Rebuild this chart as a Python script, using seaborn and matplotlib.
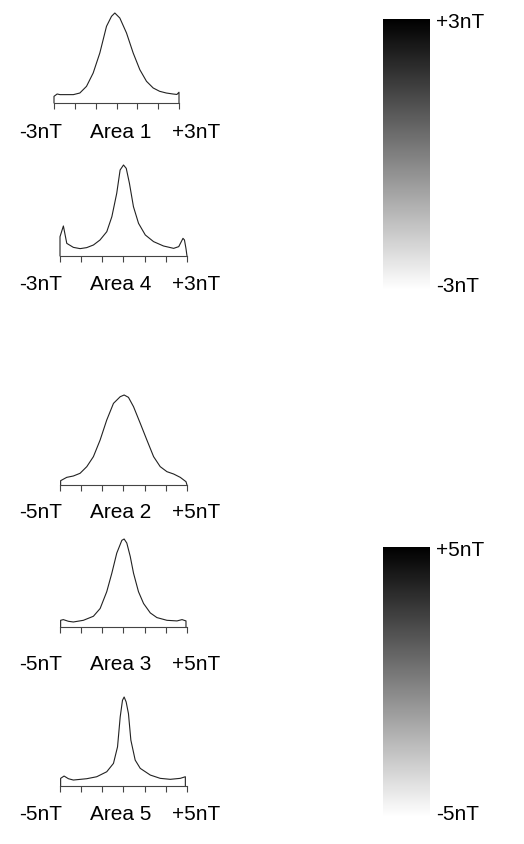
import numpy as np
import pandas as pd
import matplotlib
matplotlib.use("Agg")
import matplotlib.pyplot as plt
import matplotlib.colors as mcolors
import matplotlib.cm as cm
import seaborn as sns

# histogram outlines (field in nT, relative count)
area1_x = [-3.00, -2.85, -2.71, -2.07, -1.76, -1.44, -1.12, -0.80, -0.48, -0.24, -0.08, 0.16, 0.48, 0.80, 1.12, 1.44, 1.76, 2.07, 2.39, 2.71, 2.90, 3.00]
area1_y = [0.074, 0.100, 0.093, 0.093, 0.111, 0.185, 0.333, 0.556, 0.852, 0.963, 1.000, 0.944, 0.778, 0.556, 0.370, 0.241, 0.167, 0.130, 0.111, 0.100, 0.095, 0.120]

area4_x = [-3.00, -2.84, -2.68, -2.37, -2.05, -1.74, -1.42, -1.11, -0.79, -0.55, -0.32, -0.16, 0.00, 0.13, 0.28, 0.47, 0.71, 1.03, 1.42, 1.89, 2.37, 2.61, 2.81, 2.88, 2.95, 3.00]
area4_y = [0.212, 0.330, 0.139, 0.095, 0.081, 0.092, 0.121, 0.176, 0.267, 0.432, 0.689, 0.945, 1.000, 0.963, 0.799, 0.542, 0.359, 0.231, 0.158, 0.110, 0.084, 0.103, 0.194, 0.176, 0.084, 0.000]

area2_x = [-4.95, -4.47, -3.95, -3.42, -2.89, -2.37, -1.84, -1.32, -0.79, -0.26, 0.05, 0.39, 0.79, 1.32, 1.84, 2.37, 2.89, 3.42, 3.95, 4.47, 4.92, 5.00]
area2_y = [0.048, 0.085, 0.100, 0.130, 0.204, 0.315, 0.500, 0.722, 0.907, 0.981, 1.000, 0.974, 0.870, 0.685, 0.500, 0.315, 0.204, 0.148, 0.122, 0.085, 0.037, 0.000]

area3_x = [-4.95, -4.74, -4.34, -3.95, -3.16, -2.37, -1.84, -1.32, -0.92, -0.53, -0.13, 0.05, 0.26, 0.53, 0.79, 1.18, 1.58, 2.11, 2.63, 3.42, 4.21, 4.61, 4.92]
area3_y = [0.076, 0.084, 0.065, 0.057, 0.076, 0.122, 0.210, 0.401, 0.611, 0.840, 0.985, 1.000, 0.954, 0.802, 0.611, 0.401, 0.267, 0.160, 0.107, 0.076, 0.069, 0.084, 0.069]

area5_x = [-4.95, -4.68, -4.34, -3.95, -2.89, -2.11, -1.32, -0.79, -0.47, -0.26, -0.08, 0.05, 0.21, 0.39, 0.58, 0.92, 1.32, 2.11, 2.89, 3.68, 4.47, 4.87]
area5_y = [0.086, 0.112, 0.082, 0.067, 0.082, 0.104, 0.160, 0.254, 0.440, 0.776, 0.963, 1.000, 0.944, 0.813, 0.515, 0.291, 0.198, 0.123, 0.086, 0.075, 0.086, 0.104]

panel_names = ["Area 1", "Area 4", "Area 2", "Area 3", "Area 5"]
panel_ranges = [3, 3, 5, 5, 5]
bar_ranges = [3, 5]

sns.set_style("white")
plt.rcParams["font.family"] = ["Liberation Sans", "DejaVu Sans"]
plt.rcParams["text.color"] = "black"

W, H = 524, 844
fig = plt.figure(figsize=(W / 100, H / 100), dpi=100)

def px_axes(x0, x1, ybase, ytop):
    return fig.add_axes([x0 / W, 1 - ybase / H, (x1 - x0) / W, (ybase - ytop) / H])

# pixel boxes: left, right, baseline, peak, label centre y
boxes = [(54, 179, 103, 13, 133),
         (60, 187, 256, 165, 284),
         (60, 187, 485, 395, 512),
         (60, 187, 627, 539, 665),
         (60, 187, 786, 697, 815)]
series = [(area1_x, area1_y), (area4_x, area4_y), (area2_x, area2_y),
          (area3_x, area3_y), (area5_x, area5_y)]

fs = 15
for (x0, x1, yb, yt, ly), (xs, ys), name, r in zip(boxes, series, panel_names, panel_ranges):
    ax = px_axes(x0, x1, yb, yt)
    xs = [xs[0]] + list(xs) + [xs[-1]]
    ys = [0.0] + list(ys) + [0.0]
    df = pd.DataFrame({"field": xs, "count": ys})
    sns.lineplot(data=df, x="field", y="count", ax=ax, sort=False,
                 color="#222222", lw=0.8, estimator=None)
    for ln in ax.lines:
        ln.set_clip_on(False)
    ax.set_xlim(-r, r)
    ax.set_ylim(0, 1)
    ax.set_xticks(np.linspace(-r, r, 7))
    ax.set_xticklabels([])
    ax.set_yticks([])
    ax.set_xlabel("")
    ax.set_ylabel("")
    sns.despine(ax=ax, left=True)
    ax.spines["bottom"].set_color("#444444")
    ax.spines["bottom"].set_linewidth(0.8)
    ax.tick_params(axis="x", direction="out", length=4, width=0.8, color="#444444", bottom=True)
    ax.patch.set_alpha(0)
    fig.text(40.5 / W, 1 - ly / H, f"-{r}nT", ha="center", va="center", fontsize=fs, color="black")
    fig.text(121 / W, 1 - ly / H, name, ha="center", va="center", fontsize=fs, color="black")
    fig.text(196 / W, 1 - ly / H, f"+{r}nT", ha="center", va="center", fontsize=fs, color="black")

# grey scale bars
bar_boxes = [(383, 430, 290, 19), (383, 430, 817, 547)]
for (x0, x1, yb, yt), r in zip(bar_boxes, bar_ranges):
    cax = px_axes(x0, x1, yb, yt)
    sm = cm.ScalarMappable(norm=mcolors.Normalize(-r, r), cmap="gray_r")
    cb = fig.colorbar(sm, cax=cax)
    cb.outline.set_visible(False)
    cb.set_ticks([])
    fig.text(436 / W, 1 - (yt + 3) / H, f"+{r}nT", ha="left", va="center", fontsize=fs, color="black")
    fig.text(436 / W, 1 - (yb - 3) / H, f"-{r}nT", ha="left", va="center", fontsize=fs, color="black")

fig.savefig("out.png", dpi=100)
